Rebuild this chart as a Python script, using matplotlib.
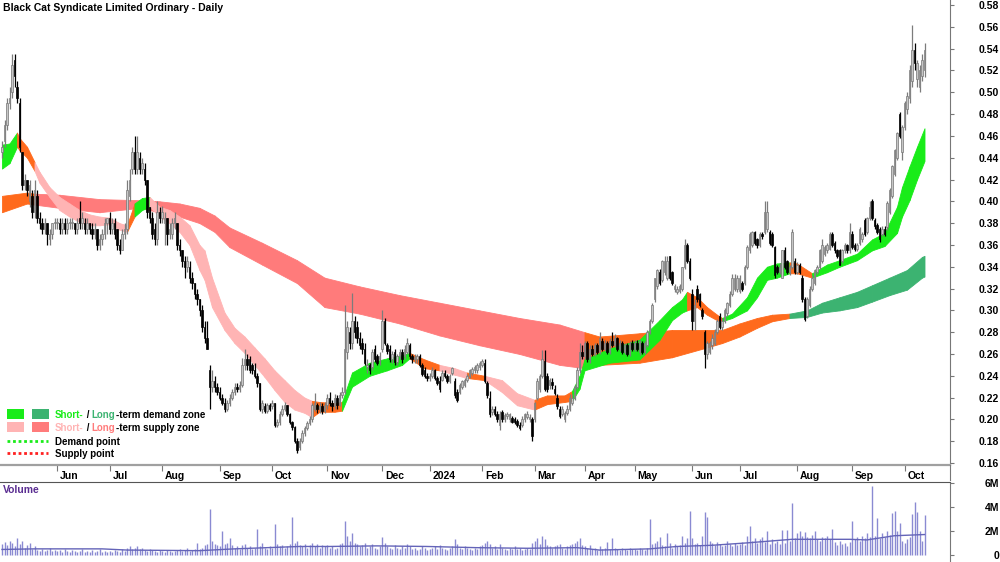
import numpy as np
import pandas as pd
import matplotlib
matplotlib.use('Agg')
import matplotlib.pyplot as plt
from matplotlib.transforms import ScaledTranslation

plt.rcParams['font.family'] = ['Liberation Sans', 'DejaVu Sans']

TITLE = "Black Cat Syndicate Limited Ordinary - Daily"

# ── trading calendar (ASX) ─────────────────────────────────────────────────
START, END = "2023-05-02", "2024-10-11"
ASX_HOLIDAYS = ["2023-06-12", "2023-12-25", "2023-12-26", "2024-01-01", "2024-01-26",
                "2024-03-29", "2024-04-01", "2024-04-25", "2024-06-10"]

# ── daily OHLC, in cents (one line per month) ──────────────────────────────
opens = [
    44.5,45.5,47,49,50,53,50.5,49,44.5,41.5,42,40,40.5,39,40.5,38.5,38,37.5,38,36.5,37,38,
    38,38,37.5,38,37.5,38,38,38,37.5,38.5,38,38,37.5,38,37.5,37,37.5,36,36.5,37,38,
    38.5,37.5,38,37.5,36,35.5,37,37.5,40.5,43,44.5,43,44,43,43,42,39.5,38.5,37.5,36.5,39,
    38.5,38,38.5,37,37,38,38,36,35.5,34.5,34,34,33,32.5,31.5,31,30,28.5,27.5,24.5,23,23.5,23,
    22.5,22,21.5,21,21.5,22,22.5,23,22.8,23.2,25,25.5,25.5,25,24.5,24,23.3,21,21.2,20.8,21.3,
    21.2,21.5,19.5,19.8,20.5,21,21.3,20.5,19.8,19.3,18,17.5,18,18.8,19.2,19.7,20,21,21.3,21,21.2,20.8,
    21.3,22,21.5,21.2,22,21.3,22.2,22.5,26.2,28,27,29,28.5,27.5,27,26.5,24.8,25,24.8,26.5,25.8,25.5,
    26.5,29,26.8,26.5,25.5,26.2,25.3,25.8,26.2,25.8,26.2,26.8,25.8,25.5,25.5,25.8,25,24.5,24,
    23.8,24,24.5,23.8,23.5,23.6,24.3,24,23.5,24.3,23.5,22.5,22.5,23,23.2,23.6,24,24.3,24.5,24.5,24.8,
    25,25.2,23.3,22,20.7,21,20.5,19.5,20.7,20,20.3,20,20.1,20,19.9,19.5,19.5,20,20.2,20,20,
    20,22,22.8,24,25.4,24,23.2,23.4,22.8,22,21,20.5,20,20.6,21,21.5,22,23,24.5,26.2,
    25.8,27,25.5,26.5,26,26.8,26.2,27.2,26.5,27,26.2,27.2,26.8,27.5,26.5,27,26.2,26.8,26,27,
    26.5,27,26.2,27,26.2,26.8,28,29,31,32.2,33.5,32.8,33.5,33,35,33.5,32,31.7,31.8,32,34,36,34.5,
    31.5,29,32,31.5,30,28,26,26.2,26.8,27,28,29.5,28.5,29,29.8,30.5,31.5,32,32,
    31.8,32.5,32.5,34,35.5,36,37.2,36.5,36,37,37.2,37.5,37.2,37,35.8,34,33.5,33,35.5,34.5,33.5,34,34.5,
    33.5,34.2,33,31,29.5,30.5,32,32.5,33.5,34,34.5,35.2,35.5,35.6,37,36.2,35.5,35.5,34.5,35.5,36,35.5,
    37,36,35.6,36.2,36.5,38.3,37.2,38.5,40,38.3,37.8,37.5,37,37.5,37.6,39,40.5,42.5,44,48,44.5,
    46.8,48.5,49.5,51,53.9,51.2,50.5,51.5,52,
]
highs = [
    45.5,47.5,49.5,50.5,53.5,53.5,51,49.5,44.5,42.5,42,42,41,42,41,39,38.5,38.5,38,37.5,38,38.5,
    38.5,38.5,38.5,38.5,38.5,38.5,38.5,38,38.5,40,39,38.5,38.5,38,38,38,37.5,37,37.5,38.5,38.5,
    39,38.5,38.5,37.5,36.5,37.5,38,42,43,45,46,46,44.5,44,43.5,42,39.5,39,38,40,39.5,
    39.6,39,38.5,38,38.5,39,38,36.5,35.5,35,35,34.5,33.5,32.5,32,31,30.5,29,29,25,24.5,24,23.3,
    23,22.3,22,21.8,22.3,22.8,23.3,23.3,23.5,25.6,26.5,26,25.8,25.2,25.2,24.3,23.3,21.8,21.5,21.5,21.5,
    21.8,21.5,20,20.8,21.3,21.6,21.3,20.6,19.9,19.4,18.3,18.3,19,19.4,19.9,20.3,21.5,22.4,21.5,21.6,21.5,21.6,
    22.3,22.5,21.8,22.3,22.2,22.5,23,30.5,29,28.5,31.6,29.5,29,28,27.5,27,25.5,25.2,26.5,26.8,26,26.2,
    30,29.3,27,26.8,26.3,26.5,26,26.5,26.5,26.8,27.5,27,26,26,26,26,25.2,24.8,24.3,
    24.3,24.8,24.6,24,24,24.5,24.5,24.2,24.2,24.8,23.8,22.8,23.3,23.6,23.8,24.2,24.6,24.8,25,25.2,25.4,
    25.5,25.5,23.5,22.6,21.2,21.2,20.8,20.8,20.9,20.6,20.7,20.6,20.3,20.2,20,19.8,20.3,20.6,20.8,20.5,20.2,
    21.6,23.8,24.2,26.4,26.4,24.3,23.8,23.8,23.2,22.3,21.2,21.2,20.8,21.3,22.3,22.3,23.2,24.8,27,26.8,
    27.2,27.2,26.8,26.8,27,27,28,27.5,27.3,27.2,27.5,28,27.8,27.6,27.3,27.2,27,27,27.2,27.3,
    27.3,27.3,27.3,27.2,27.2,28.2,29.2,30.7,33,33.8,33.8,34.6,35,35,35,33.6,32.4,32.2,32.4,34,36.5,36.2,34.8,
    32,31,32.3,31.6,30.2,28.2,27.2,27.2,27.8,28.3,29.2,29.8,29.3,30.2,30.8,31.8,33.3,33.3,33.2,
    33.2,32.7,34.2,36,37.2,37.3,37.3,36.6,37.2,37.2,40,40,37.4,37.2,35.9,34.2,34.3,35.5,35.8,34.6,34.2,37.5,34.8,
    34.4,34.3,33.2,31.2,31.2,32.2,33.2,33.8,34.2,35.6,36.5,36,36.2,37.2,37.2,36.4,35.6,35.6,35.6,36.2,36.1,38,
    37.3,36.2,36.2,37.6,37.2,38.5,38.6,40,40.2,38.5,38,37.6,37.7,37.7,40,41.2,43.3,44.8,46.4,48.2,47,
    49.2,50,52.5,56.2,54.5,53,52.5,53.5,54.5,
]
lows = [
    44,45,46.5,48.5,49.5,50.5,49,44.5,41,41,40.5,39.5,38.5,38.5,38,37.5,37,37,36,36,36.5,37.5,
    37.5,37,37,37,37,37.5,37.5,37,37,37.5,37.5,37,37,37,36.5,36.5,35.5,35.5,36,36.5,37,
    37,37,36.5,35.5,35.2,35.5,36.5,37,40,42.5,42.5,42.5,42.5,42.5,41.5,38.5,38,36.5,36,36,38,
    38,36,36,36.5,36.5,37.5,35.5,35,34,33,33.5,32.5,32,31,30.5,29.5,28,27,26.5,21,22.5,22.5,22.2,
    21.8,21.3,20.7,20.8,21.2,21.8,22.2,22.5,22.5,23,24.5,24.5,24.3,24.2,23.8,23,20.8,20.6,20.6,20.6,20.8,
    21,19.3,19.3,19.5,20.3,20.8,20.3,19.6,19,17.8,16.9,17.2,17.8,18.5,19,19.5,19.8,20.8,20.6,20.6,20.5,20.6,
    21,21.2,20.8,21,21,21.2,22,22.3,25.5,26.5,26.5,27.5,27,26.5,26,25,24.3,24.2,24.5,25.3,25,25,
    26.2,26.8,26,25.3,25.2,25,25,25.5,25.2,25.5,26,25.5,25.2,25.2,25.2,24.8,24,23.8,23.5,
    23.5,23.8,23.6,23.2,22.5,23.5,23.8,23.3,23.3,24.1,22,21.6,22.3,22.8,23,23.4,23.8,24.1,24.3,24.3,24.5,
    24.8,23.3,22,20.2,20.4,20.3,19.8,19,19.8,19.8,20,19.8,19.7,19.6,19.3,19,19.3,19.8,20,19.8,18,
    19.8,21.8,22.5,23.8,22.6,22.5,22.8,22.8,22.2,21,20.1,20.3,19.8,20.4,20.8,21.3,21.8,22.8,24.3,25.5,
    25.5,25.3,25.2,25.8,25.8,26,26,26.3,26.3,26,26,26.6,26.6,26.3,26.3,26,26,25.8,25.8,26.3,
    26.3,26.3,25.9,26,26,26.6,27.8,28.8,30.8,32,32.3,32.6,33.2,32.8,32.8,32.3,31.7,31.5,31.6,31.8,33.8,34.3,32.8,
    28.2,28.2,30.8,30.3,29.2,24.7,25.5,26,26.5,26.8,27.8,28.3,28.2,28.8,29.5,30.3,31.3,31.8,31.7,
    31.6,31.8,32.3,33.8,35.3,35.8,36,35.7,35.8,36.5,37,37.2,36,35.8,33,33.3,33.3,33,33.8,33.3,33.2,33.8,33.3,
    33.3,33.3,30.8,29,29.3,30.3,31.8,32.3,33.3,33.8,34.3,35,35.3,35.5,35.8,35.3,34.8,34.2,34.3,35.3,35.3,35.3,
    35.6,35.4,35.4,36,36.3,36.8,37,38.3,38.3,37.5,37,36.3,36.8,36.8,37.4,38.8,40.3,42.3,43.8,45.8,43.8,
    46.5,48,49,50.5,52,50.5,50,51,51.4,
]
closes = [
    45,47,49,49.5,52.5,51.5,49.5,45,41.5,42,41,41.5,39,41,38.5,38,37.5,38,37,37,38,38,
    38,37.5,38,37.5,38,38,38,37.5,38,38,38.5,37.5,38,37.5,37,37.5,36,36.5,37,38,38.5,
    37.5,38,37,36,35.5,37,37.5,41,42,44.5,43,44.5,43,43.5,42,39,38.5,37,36.5,39,38.5,
    39,38.5,37,37.5,38,38.5,36,35.5,34.5,34,34.5,33,32.5,31.5,31,30,28.5,27.5,26.5,23,23.5,23,22.5,
    22,21.5,21,21.5,22,22.5,23,22.8,23.2,25,25.5,25,24.5,24.5,24,23.3,21,21.5,20.8,21.3,21,
    21.5,19.5,19.8,20.5,21,21.3,20.5,19.8,19.3,18,17.2,18,18.8,19.2,19.7,20,21.3,21.5,21,21.2,20.8,21.3,
    22,21.5,21.2,22,21.3,22.2,22.5,26.5,28.5,27,29,28,27.5,26.8,26.5,25.2,25,24.5,26.2,25.5,25.2,25.8,
    29,27,26.3,25.5,26,25.3,25.8,26.2,25.5,26.5,27,25.8,25.5,25.7,25.8,25,24.2,24,23.8,
    24,24.5,23.8,23.3,22.8,24.3,24,23.5,24,24.7,22.2,21.8,23.2,23.5,23.6,24,24.5,24.6,24.8,25,25.2,
    25.4,23.5,22.2,20.5,21,20.5,20,20.5,20,20.4,20.5,20.5,19.8,19.8,19.5,19.2,20,20.5,20.5,20.2,18.5,
    21.5,23.5,24,25.5,22.8,22.8,23.6,23.2,22.4,21.2,20.3,21,20.6,21,22,22,23,24.5,26.2,25.8,
    27,25.5,26.5,26,26.8,26.2,27.5,26.5,27,26.2,27.2,26.8,27.5,26.5,27,26.2,26.8,26,27,26.5,
    27,26.5,27.2,26.2,27,28,29,30.5,33,33.7,32.5,34.5,34.5,34.5,33,32.5,32.2,32,32.2,34,36,34.5,33,
    29,30.5,31,30.5,29.5,26,27,27,27.5,28,29,28.5,29,30,30.7,31.5,33,33,33,
    33,32,34,35.8,37,37.2,36.2,36,37,36.8,39,39,36.2,36,33.2,33.5,34,35.5,34,33.5,34,37.2,33.5,
    34.2,33.5,31,29.2,31,32,33,33.7,34,35.5,36,35.8,36,37,36,35.5,35,34.2,35.5,36,35.5,37.2,
    35.8,35.6,36,37.5,37,37,38.5,39.5,38.5,37.7,37.2,36.5,37.5,37,39.8,41,43.2,44.7,46.3,46,46.8,
    49,49.7,52,53.9,52.7,52.7,52,53,53.9,
]

# ── daily volume, millions ─────────────────────────────────────────────────
volume_m = [
    .9,1.1,.8,1.2,1.0,.7,1.4,.9,1.2,.6,.8,1.0,.5,.7,.4,.3,.5,.3,.4,.6,.3,.4,
    .3,.4,.2,.5,.3,.2,.4,.3,.2,.3,.5,.2,.3,.2,.4,.2,.3,.5,.2,.3,.2,
    .3,.2,.4,.3,.2,.5,.3,.6,.7,.5,.6,.7,.5,.6,.4,.3,.5,.4,.3,.2,.4,
    .3,.2,.4,.3,.2,.3,.4,.5,.3,.4,.6,.3,.4,.5,1.0,.5,.6,.8,.9,3.8,1.2,.9,.8,
    .7,2.0,.9,1.0,1.4,.8,.6,.7,.5,.8,.9,.6,.7,.5,.6,2.2,.7,1.0,.6,.5,.7,
    .6,2.6,.9,.7,.8,.6,.7,.9,3.2,1.0,1.2,.8,.7,.9,.6,.8,1.0,.7,.9,.6,.8,.7,
    .8,.6,.7,.5,.6,.9,1.0,2.8,1.6,1.2,1.8,1.0,.9,.7,.8,1.0,.6,.7,.9,.6,.5,.7,
    1.5,1.0,.7,.6,.5,.8,.6,.5,.7,.6,.9,.7,.5,.6,.4,.5,.7,.6,.4,
    .5,.6,.7,.5,.8,.6,.5,.4,.6,.7,1.3,.9,.6,.5,.7,.6,.5,.4,.6,.5,.7,
    .8,1.0,1.2,.9,.6,.7,.5,.9,.6,.5,.4,.6,.5,.7,.5,.6,.4,.5,.6,.5,1.0,
    1.2,1.4,.9,1.6,1.3,.8,.7,.6,.7,.8,.9,.6,.5,.7,.8,.9,1.0,1.2,1.4,.8,
    .7,.6,.8,.5,.6,.4,.7,.5,.6,1.1,.5,1.4,.6,.5,.4,.6,.5,.4,.6,.5,
    .5,.4,.6,.5,.4,.6,3.0,.9,1.0,1.2,1.5,.8,.7,1.8,1.0,.6,.9,.7,.8,1.6,1.0,1.4,3.7,
    1.4,.9,1.0,.8,1.6,3.6,3.2,1.2,1.0,.8,1.1,.9,.7,.8,1.2,.9,.7,1.0,.8,
    .9,1.1,.8,1.6,2.4,1.2,1.4,1.0,1.3,1.5,1.1,2.0,.9,1.3,1.0,1.2,.9,2.1,1.0,2.1,1.2,4.3,1.4,
    1.8,2.0,1.6,1.9,1.5,1.4,1.7,2.0,1.3,1.2,1.5,1.4,1.6,1.3,2.2,1.1,.8,1.2,.9,1.0,.7,1.1,
    2.8,1.3,1.5,1.2,1.6,1.4,1.8,1.5,5.8,1.6,3.1,1.4,1.8,1.5,2.0,1.7,3.5,3.7,2.0,2.7,1.2,
    1.0,1.3,1.5,3.4,4.4,3.6,2.0,1.2,3.3,
]
# volume average line, read at trading-day numbers
vol_ma_day = [0, 13, 40, 50, 79, 93, 106, 119, 131, 150, 170, 190, 210, 230, 239,
              259, 270, 284, 298, 316, 339, 346, 357, 369]
vol_ma_m = [.45, .5, .5, .4, .35, .5, .6, .7, .7, .75, .7, .6, .55, .6, .4,
            .5, .7, .8, 1.0, 1.3, 1.3, 1.25, 1.6, 1.7]

# ── zones, read at trading-day numbers (price in $) ────────────────────────
short_day = [0, 3, 6, 7, 10, 13, 15, 19, 23, 27, 31, 35, 39, 43, 47, 50, 53, 56, 59, 63,
             67, 71, 75, 79, 81, 84, 89, 93, 97, 101, 105, 109, 113, 117, 121, 124, 127,
             133, 136, 140, 147, 154, 160, 163, 169, 175, 181, 186, 193, 200, 206, 213,
             218, 225, 228, 231, 233, 243, 255, 263, 268, 272, 274, 278, 282, 286, 288,
             292, 298, 302, 306, 310, 315, 318, 324, 330, 335, 342, 348, 353, 358, 360,
             363, 366, 369]
short_top = [.452, .453, .463, .458, .45, .436, .427, .413, .404, .398, .392, .388, .386,
             .385, .38, .378, .398, .403, .404, .395, .392, .386, .378, .36, .355, .33,
             .298, .284, .276, .266, .256, .245, .236, .227, .22, .217, .216, .215, .216,
             .243, .252, .256, .259, .261, .255, .25, .247, .243, .24, .236, .224, .218,
             .222, .222, .226, .24, .255, .265, .273, .291, .303, .31, .317, .312, .303,
             .296, .293, .297, .312, .33, .34, .343, .344, .343, .334, .342, .346, .352,
             .365, .371, .395, .413, .432, .45, .467]
short_bot = [.43, .435, .45, .447, .44, .428, .417, .404, .392, .386, .381, .378, .378,
             .379, .374, .372, .386, .392, .395, .386, .38, .372, .36, .337, .328, .303,
             .282, .27, .261, .25, .239, .227, .216, .209, .206, .202, .207, .207, .208,
             .23, .24, .245, .25, .256, .247, .245, .241, .238, .236, .225, .213, .209,
             .214, .216, .217, .228, .245, .252, .255, .273, .291, .298, .30, .303, .296,
             .291, .29, .293, .30, .312, .328, .33, .334, .334, .33, .335, .34, .346,
             .355, .359, .371, .386, .401, .42, .437]
short_state = (['up'] * 2 + ['mid'] * 3 + ['down'] * 10 + ['mid'] + ['up'] * 2 +
               ['down'] * 17 + ['mid'] * 3 + ['up'] * 5 + ['mid'] * 2 + ['down'] * 2 +
               ['mid'] + ['down'] * 3 + ['mid'] * 3 + ['up'] * 8 + ['mid'] * 4 +
               ['up'] * 6 + ['mid'] * 2 + ['up'] * 11)

long_day = [0, 10, 13, 23, 39, 55, 63, 71, 79, 85, 91, 104, 118, 129, 143, 159, 175, 191,
            207, 223, 233, 239, 255, 268, 282, 288, 295, 302, 308, 315, 322, 328, 335,
            342, 348, 355, 362, 368, 369]
long_top = [.405, .408, .407, .406, .402, .401, .40, .398, .394, .387, .376, .362, .346,
            .33, .322, .314, .307, .30, .293, .287, .28, .276, .279, .282, .282, .282,
            .288, .293, .296, .297, .30, .307, .312, .317, .323, .33, .337, .349, .35]
long_bot = [.39, .398, .397, .394, .39, .394, .39, .386, .38, .372, .358, .342, .325,
            .303, .297, .288, .277, .268, .26, .25, .247, .25, .252, .257, .266, .27,
            .276, .284, .29, .293, .294, .298, .30, .303, .308, .314, .319, .33, .331]
long_state = ['mid'] * 2 + ['down'] * 18 + ['mid'] * 9 + ['up'] * 10

SHORT_COLORS = {'up': '#19ec19', 'mid': '#ff6a1c', 'down': '#ffb4b4'}
LONG_COLORS = {'up': '#3cb371', 'mid': '#ff6a1c', 'down': '#ff7b7b'}

# ── prepare ────────────────────────────────────────────────────────────────
dates = pd.bdate_range(START, END)
dates = dates[~dates.isin(pd.to_datetime(ASX_HOLIDAYS))]
o = np.array(opens) / 100
h = np.array(highs) / 100
l = np.array(lows) / 100
c = np.array(closes) / 100
vol = np.array(volume_m) * 1e6
n = len(dates)
for name, arr in [("opens", o), ("highs", h), ("lows", l), ("closes", c), ("volume", vol)]:
    if len(arr) != n:
        raise ValueError(f"{name}: {len(arr)} values for {n} days")
x = np.arange(n)

W, H = 1000, 562
fig = plt.figure(figsize=(W / 100, H / 100), dpi=100)
AX_RIGHT = 950 / W
ax = fig.add_axes([0, 1 - 465 / H, AX_RIGHT, 465 / H])
axv = fig.add_axes([0, 0, AX_RIGHT, 80 / H])
XLIM = (-0.8, (950 - 2) / 2.5)


def draw_zone(days, top, bot, state, palette):
    for k in range(len(days) - 1):
        col = palette[state[k]]
        ax.fill_between(days[k:k + 2], top[k:k + 2], bot[k:k + 2],
                        facecolor=col, edgecolor=col, lw=0.6, zorder=1)


draw_zone(long_day, long_top, long_bot, long_state, LONG_COLORS)
draw_zone(short_day, short_top, short_bot, short_state, SHORT_COLORS)

# candles
up = c >= o
body_lo = np.minimum(o, c)
body_h = np.maximum(np.abs(c - o), 0.0009)
wick_hi = np.maximum(h, np.maximum(o, c))
wick_lo = np.minimum(l, body_lo)
ax.vlines(x[up], wick_lo[up], wick_hi[up], color='#7c7c7c', lw=0.9, zorder=3)
ax.vlines(x[~up], wick_lo[~up], wick_hi[~up], color='black', lw=0.9, zorder=3)
ax.bar(x[up], body_h[up], bottom=body_lo[up], width=0.75,
       color='#c6c6c6', edgecolor='#777777', lw=0.5, zorder=4)
ax.bar(x[~up], body_h[~up], bottom=body_lo[~up], width=0.75,
       color='black', edgecolor='black', lw=0.5, zorder=4)

ax.set_xlim(*XLIM)
ax.set_ylim(0.1582, 0.5846)

# month ticks
first = np.flatnonzero(np.r_[True, dates.month[1:] != dates.month[:-1]])[1:]
mlabels = ['2024' if dates[i].month == 1 else dates[i].strftime('%b') for i in first]
ax.set_xticks(first)
ax.set_xticklabels(mlabels, fontsize=7.5, fontweight='bold')
ax.tick_params(axis='x', direction='out', length=4, width=0.8, color='#777777', pad=0)
shift = ScaledTranslation(3 / 100, 0, fig.dpi_scale_trans)
for lab in ax.get_xticklabels():
    lab.set_horizontalalignment('left')
    lab.set_transform(lab.get_transform() + shift)

# price axis on the right
yt = np.round(np.arange(0.16, 0.581, 0.02), 2)
ax.yaxis.tick_right()
ax.set_yticks(yt)
ax.set_yticklabels([f"{v:.2f}" for v in yt], fontsize=7.5, fontweight='bold')
ax.tick_params(axis='y', direction='out', length=3, width=0.8, color='#777777', pad=32.4)
for lab in ax.get_yticklabels():
    lab.set_horizontalalignment('right')

for s in ['top', 'left']:
    ax.spines[s].set_visible(False)
ax.spines['right'].set_color('#777777')
ax.spines['bottom'].set_color('#a0a0a0')
ax.spines['bottom'].set_linewidth(1.6)

# volume panel
axv.vlines(x, 0, vol, color='#8a8ad2', lw=1.0, zorder=2)
axv.plot(vol_ma_day, np.array(vol_ma_m) * 1e6, color='#6464b8', lw=1.0, zorder=3)
axv.set_xlim(*XLIM)
axv.set_ylim(-0.6e6, 6.1e6)
axv.set_xticks([])
axv.yaxis.tick_right()
axv.set_yticks([0, 2e6, 4e6, 6e6])
axv.set_yticklabels(['0', '2M', '4M', '6M'], fontsize=7.5, fontweight='bold')
axv.tick_params(axis='y', direction='out', length=3, width=0.8, color='#777777', pad=32.4)
for lab in axv.get_yticklabels():
    lab.set_horizontalalignment('right')
for s in ['bottom', 'left']:
    axv.spines[s].set_visible(False)
axv.spines['right'].set_color('#777777')
axv.spines['top'].set_color('#555555')

# overlay in pixel coordinates: title, labels, legend
ov = fig.add_axes([0, 0, 1, 1], zorder=10)
ov.set_xlim(0, W)
ov.set_ylim(H, 0)
ov.axis('off')
ov.plot([950, 950], [465, 480], color='#777777', lw=0.8)
ov.text(3, 8, TITLE, fontsize=7.5, fontweight='bold', va='center', ha='left')
ov.text(3, 490, 'Volume', fontsize=7.5, fontweight='bold', color='#5a2d91',
        va='center', ha='left')

ov.add_patch(plt.Rectangle((7, 409), 17, 10, color=SHORT_COLORS['up'], lw=0))
ov.add_patch(plt.Rectangle((32, 409), 17, 10, color=LONG_COLORS['up'], lw=0))
ov.add_patch(plt.Rectangle((7, 422), 17, 10, color=SHORT_COLORS['down'], lw=0))
ov.add_patch(plt.Rectangle((32, 422), 17, 10, color=LONG_COLORS['down'], lw=0))
ov.plot([7, 48], [441, 441], color='#19ec19', lw=2, ls=(0, (1, 1)))
ov.plot([7, 48], [453, 453], color='#ff2020', lw=2, ls=(0, (1, 1)))


def colored_line(xp, yp, pieces):
    t = ov.text(xp, yp, pieces[0][0], color=pieces[0][1], fontsize=7,
                fontweight='bold', va='bottom', ha='left')
    for txt, col in pieces[1:]:
        t = ov.annotate(txt, xy=(1, 0), xycoords=t, color=col, fontsize=7,
                        fontweight='bold', va='bottom', ha='left')


colored_line(55, 420, [('Short-', SHORT_COLORS['up']), (' / ', 'black'),
                       ('Long', LONG_COLORS['up']), ('-term demand zone', 'black')])
colored_line(55, 433, [('Short-', SHORT_COLORS['down']), (' / ', 'black'),
                       ('Long', LONG_COLORS['down']), ('-term supply zone', 'black')])
ov.text(55, 447, 'Demand point', fontsize=7, fontweight='bold', va='bottom', ha='left')
ov.text(55, 459, 'Supply point', fontsize=7, fontweight='bold', va='bottom', ha='left')

fig.savefig('out.png', dpi=100)
